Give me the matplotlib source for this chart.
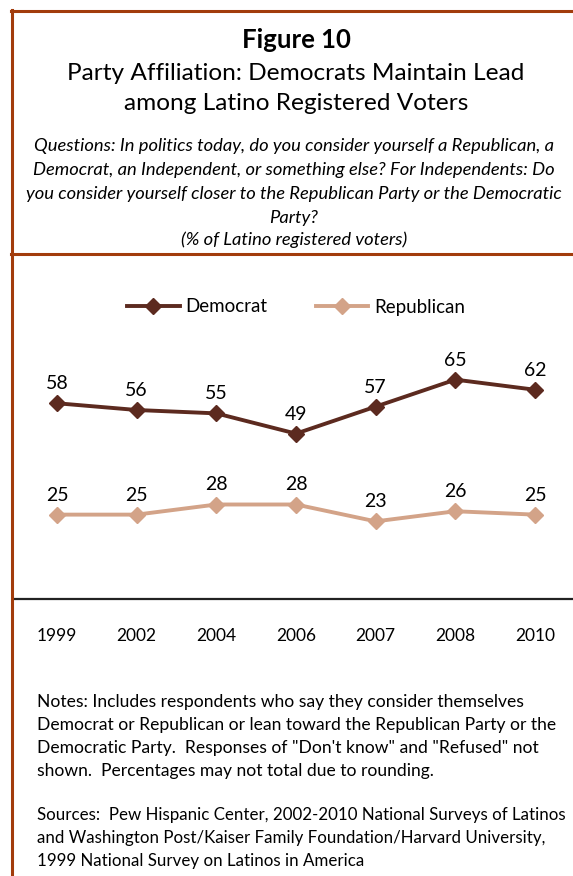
import matplotlib
matplotlib.use("Agg")
import matplotlib.pyplot as plt
from matplotlib.lines import Line2D

years = ["1999", "2002", "2004", "2006", "2007", "2008", "2010"]
democrat = [58, 56, 55, 49, 57, 65, 62]
republican = [25, 25, 28, 28, 23, 26, 25]

DEM_C = "#5c2a1f"
REP_C = "#d3a388"
FRAME_C = "#a23c0c"

W, H = 573, 876
DPI = 100
plt.rcParams['font.family'] = ['Lato', 'DejaVu Sans']

fig = plt.figure(figsize=(W / DPI, H / DPI), dpi=DPI)

def fx(px):
    return px / W

def fy(py):
    return 1 - py / H

# Frame lines
fig.add_artist(Line2D([fx(12), fx(12)], [fy(10), fy(876)], color=FRAME_C, lw=2.2))
fig.add_artist(Line2D([fx(11), fx(573)], [fy(11), fy(11)], color=FRAME_C, lw=2.2))
fig.add_artist(Line2D([fx(11), fx(573)], [fy(254), fy(254)], color=FRAME_C, lw=2.2))

# Titles
fig.text(fx(296), fy(40), "Figure 10", ha="center", va="center", fontsize=18.5, fontweight="bold")
fig.text(fx(296), fy(73), "Party Affiliation: Democrats Maintain Lead", ha="center", va="center", fontsize=17.6)
fig.text(fx(296), fy(104), "among Latino Registered Voters", ha="center", va="center", fontsize=17.6)

q_lines = [
    "Questions: In politics today, do you consider yourself a Republican, a",
    "Democrat, an Independent, or something else? For Independents: Do",
    "you consider yourself closer to the Republican Party or the Democratic",
    "Party?",
    "(% of Latino registered voters)",
]
q_y = [146, 170, 194, 218, 240]
for t, y in zip(q_lines, q_y):
    fig.text(fx(294), fy(y), t, ha="center", va="center", fontsize=13.2, style="italic")

# Axes: x-axis line at y=599 px (value 0), 3.375 px per unit
y0_px = 599
ppu = 3.375
ymax = 80
ax_top_px = y0_px - ymax * ppu
ax_left_px, ax_right_px = 15, 573
ax = fig.add_axes([fx(ax_left_px), fy(y0_px), fx(ax_right_px - ax_left_px), (y0_px - ax_top_px) / H])
x = list(range(len(years)))
spacing = (535 - 57) / 6
ax.set_xlim(-(57 - ax_left_px) / spacing, 6 + (ax_right_px - 535) / spacing)
ax.set_ylim(0, ymax)
ax.plot(x, democrat, color=DEM_C, lw=2.8, marker="D", ms=8.5, label="Democrat", clip_on=False)
ax.plot(x, republican, color=REP_C, lw=2.8, marker="D", ms=8.5, label="Republican", clip_on=False)
for xi, v in zip(x, democrat):
    ax.annotate(str(v), (xi, v), xytext=(0, 8), textcoords="offset points", ha="center", va="bottom", fontsize=14)
for xi, v in zip(x, republican):
    ax.annotate(str(v), (xi, v), xytext=(0, 8), textcoords="offset points", ha="center", va="bottom", fontsize=14)
for s in ["top", "left", "right"]:
    ax.spines[s].set_visible(False)
ax.spines["bottom"].set_color("#222222")
ax.spines["bottom"].set_linewidth(1.6)
ax.set_yticks([])
ax.set_xticks(x)
ax.set_xticklabels(years, fontsize=12.5)
ax.tick_params(axis="x", length=0, pad=21)
ax.set_facecolor("none")

leg = fig.legend(handles=ax.get_lines(), loc="center", bbox_to_anchor=(fx(296), fy(307)), ncol=2,
                 frameon=False, fontsize=13.5, handlelength=2.8, columnspacing=2.6, handletextpad=0.3)

notes = [
    "Notes: Includes respondents who say they consider themselves",
    "Democrat or Republican or lean toward the Republican Party or the",
    "Democratic Party.  Responses of \"Don't know\" and \"Refused\" not",
    "shown.  Percentages may not total due to rounding.",
]
for i, t in enumerate(notes):
    fig.text(fx(37), fy(702 + 23 * i), t, ha="left", va="center", fontsize=12.6)

sources = [
    "Sources:  Pew Hispanic Center, 2002-2010 National Surveys of Latinos",
    "and Washington Post/Kaiser Family Foundation/Harvard University,",
    "1999 National Survey on Latinos in America",
]
for i, t in enumerate(sources):
    fig.text(fx(37), fy(815 + 23 * i), t, ha="left", va="center", fontsize=12.2)

fig.savefig("out.png", dpi=DPI)
